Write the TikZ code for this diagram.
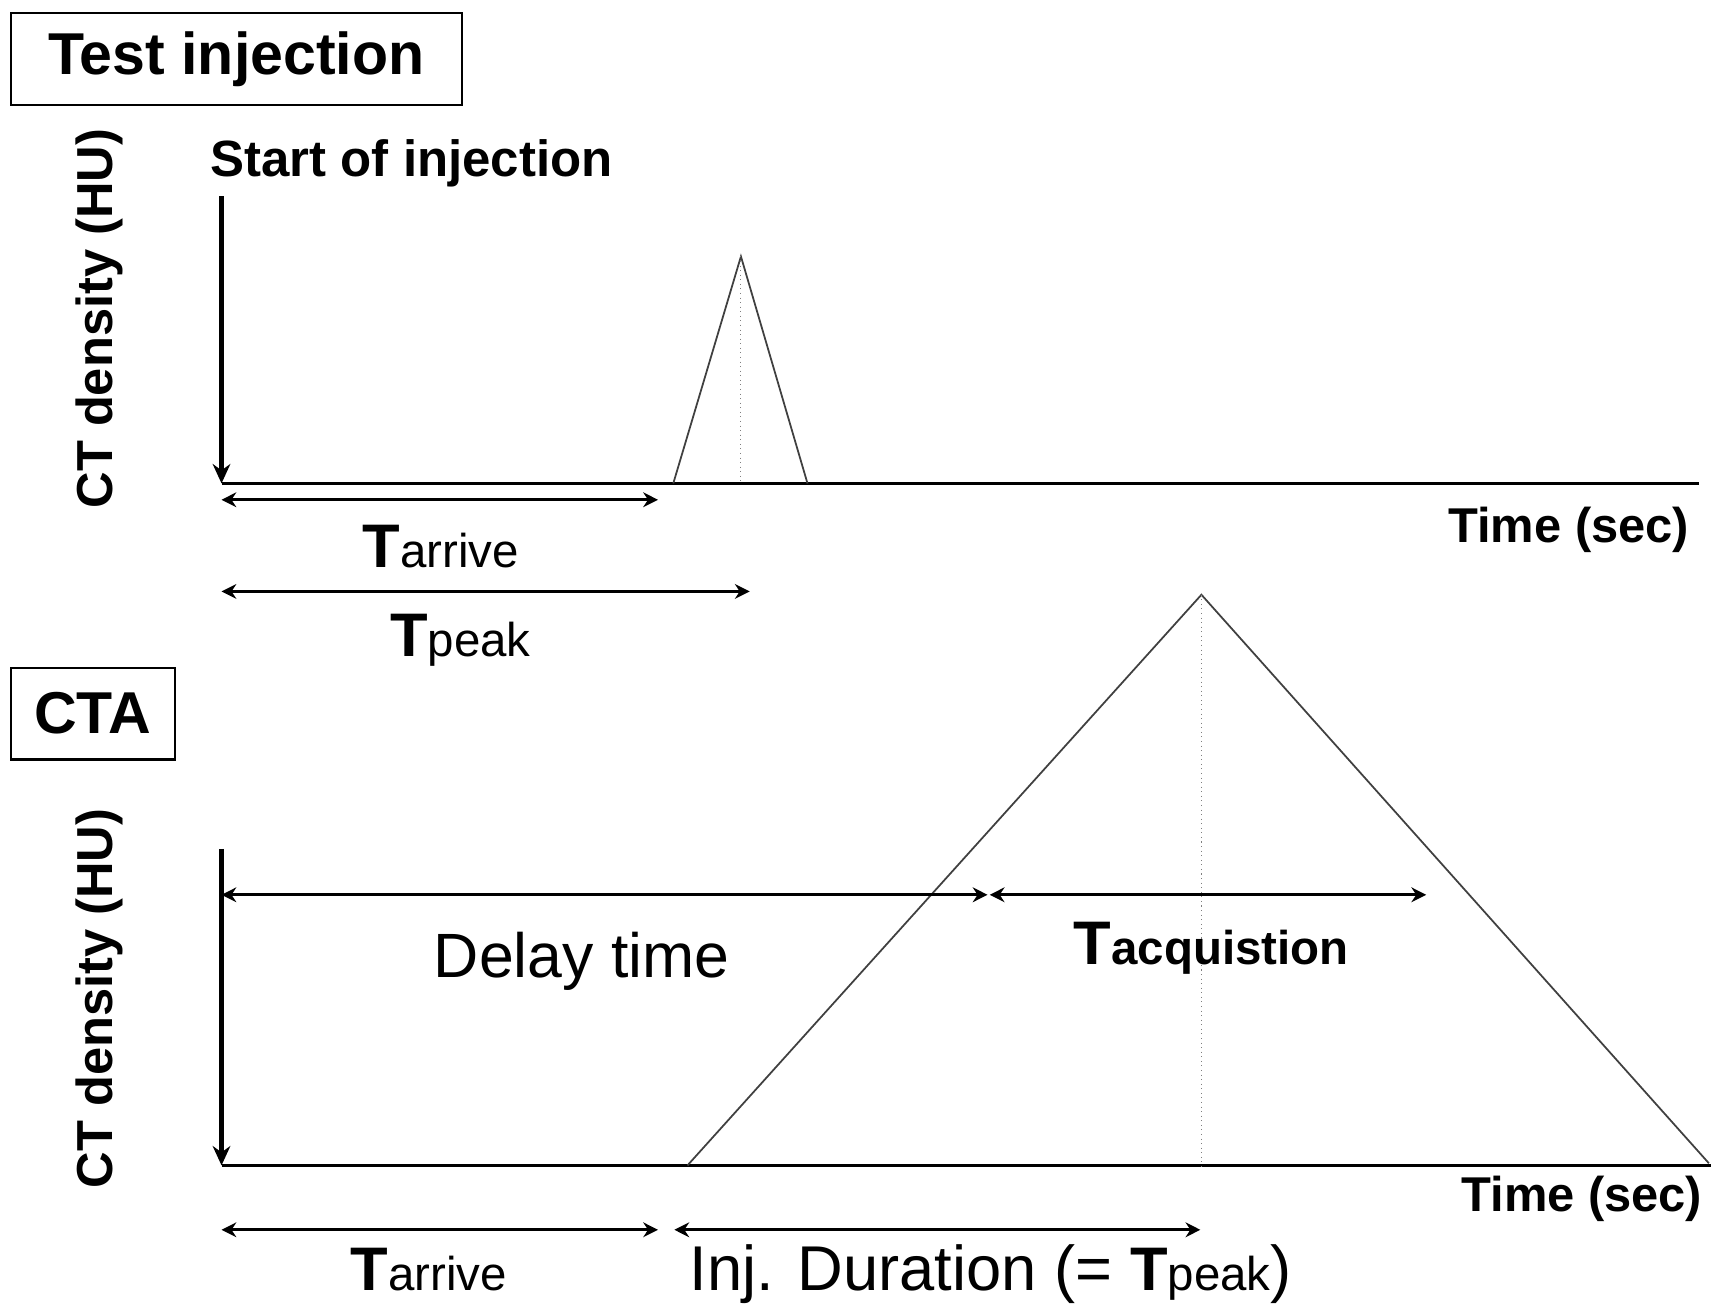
\documentclass[tikz,border=0pt]{standalone}
\usepackage{fontspec}
\setmainfont{Liberation Sans}
\usetikzlibrary{arrows.meta}
\newcommand{\tname}[1]{{\fontsize{17.5}{20}\selectfont\bfseries T}{\fontsize{13.5}{16}\selectfont #1}}

\begin{document}
\begin{tikzpicture}
  [x=0.010912cm, y=-0.010912cm,
    every node/.style={inner sep=0pt, outer sep=0pt},
    titlebox/.style={draw, line width=0.6pt, minimum height=0.917cm, font=\fontsize{16.8}{20}\selectfont\bfseries},
    axislabel/.style={rotate=90, anchor=base, font=\fontsize{14.4}{17}\selectfont\bfseries},
    timelabel/.style={anchor=base east, font=\fontsize{13.9}{16}\selectfont\bfseries},
    axis/.style={line width=0.7pt},
    startarrow/.style={line width=1.5pt, -{Stealth[length=5.5pt,width=5pt]}},
    span/.style={line width=0.9pt, {Stealth[length=4.2pt,width=4.2pt]}-{Stealth[length=4.2pt,width=4.2pt]}},
    curve/.style={line width=0.5pt, black!75},
    peakline/.style={gray, line width=0.3pt, densely dotted},
  ]
  \useasboundingbox (0,0) rectangle (1568,1199);

  \node[titlebox, minimum width=4.507cm] (test) at (216.5,54) {Test injection};
  \node[titlebox, minimum width=1.637cm] (cta) at (85,654) {CTA};

  \coordinate (s1) at (203,180);
  \coordinate (o1) at (203,443);
  \coordinate (e1) at (1557,443);
  \coordinate (a1) at (617,443);
  \coordinate (p1) at (679,235);
  \coordinate (b1) at (740,443);
  \coordinate (f1) at (679,443);
  \coordinate (ta1l) at (203,458);
  \coordinate (ta1r) at (603,458);
  \coordinate (tp1l) at (203,542);
  \coordinate (tp1r) at (687,542);

  \draw[startarrow] (s1) -- (o1);
  \draw[axis] (o1) -- (e1);
  \draw[curve] (a1) -- (p1) -- (b1);
  \draw[peakline] (p1) -- (f1);
  \draw[span] (ta1l) -- (ta1r);
  \draw[span] (tp1l) -- (tp1r);

  \node[anchor=base west, font=\fontsize{14.5}{17}\selectfont\bfseries] (start) at (193,162) {Start of injection};
  \node[axislabel] (ylab1) at (103,292) {CT density (HU)};
  \node[timelabel] (time1) at (1548,497) {Time (sec)};
  \node[anchor=base] (tarr1) at (404,520) {\tname{arrive}};
  \node[anchor=base] (tpk1) at (422,602) {\tname{peak}};

  \coordinate (s2) at (203,778);
  \coordinate (o2) at (203,1068);
  \coordinate (e2) at (1568,1068);
  \coordinate (a2) at (630,1068);
  \coordinate (p2) at (1101,545);
  \coordinate (b2) at (1566,1066);
  \coordinate (f2) at (1101,1072);
  \coordinate (dl) at (203,820);
  \coordinate (dr) at (905,820);
  \coordinate (ql) at (907,820);
  \coordinate (qr) at (1307,820);
  \coordinate (ta2l) at (203,1127);
  \coordinate (ta2r) at (603,1127);
  \coordinate (ij2l) at (618,1127);
  \coordinate (ij2r) at (1100,1127);

  \draw[startarrow] (s2) -- (o2);
  \draw[axis] (o2) -- (e2);
  \draw[curve] (a2) -- (p2) -- (b2);
  \draw[peakline] (p2) -- (f2);
  \draw[span] (dl) -- (dr);
  \draw[span] (ql) -- (qr);
  \draw[span] (ta2l) -- (ta2r);
  \draw[span] (ij2l) -- (ij2r);

  \node[axislabel] (ylab2) at (103,915) {CT density (HU)};
  \node[anchor=base, font=\fontsize{17.8}{20}\selectfont] (delay) at (533,896) {Delay time};
  \node[anchor=base] (tacq) at (1110,884) {\tname{\bfseries acquistion}};
  \node[timelabel] (time2) at (1560,1110) {Time (sec)};
  \node[anchor=base] (tarr2) at (393,1183) {\tname{arrive}};
  \node[anchor=base, font=\fontsize{18}{20}\selectfont] (inj) at (908,1183) {Inj. Duration (= \tname{peak})};
\end{tikzpicture}
\end{document}
